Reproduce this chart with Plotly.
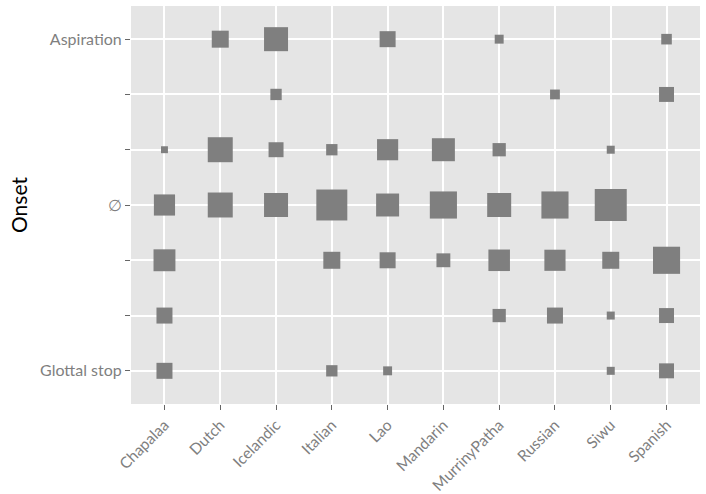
import plotly.graph_objects as go

languages = ["Chapalaa", "Dutch", "Icelandic", "Italian", "Lao", "Mandarin",
             "MurrinyPatha", "Russian", "Siwu", "Spanish"]
onset_labels = ["Glottal stop", "", "", "\u2205", "", "", "Aspiration"]

# counts per onset row (bottom to top), one entry per language, None = absent
glottal = [16, None, None, 8, 5, None, None, None, 4, 14]
row_b = [16, None, None, None, None, None, 11, 16, 4, 14]
row_c = [30, None, None, 18, 16, 12, 29, 28, 18, 46]
null_onset = [28, 39, 36, 60, 33, 46, 36, 46, 64, None]
row_e = [3, 39, 14, 8, 28, 33, 11, None, 4, None]
row_f = [None, None, 8, None, None, None, None, 6, None, 14]
aspiration = [None, 18, 36, None, 16, None, 5, None, None, 7]

rows = [glottal, row_b, row_c, null_onset, row_e, row_f, aspiration]

xs, ys, vals = [], [], []
for yi, row in enumerate(rows):
    for xi, v in enumerate(row):
        if v is not None:
            xs.append(xi)
            ys.append(yi)
            vals.append(v)

fig = go.Figure(go.Scatter(
    x=xs, y=ys, mode="markers",
    marker=dict(symbol="square", size=vals, sizemode="area", sizeref=1/8,
                color="#7f7f7f", opacity=1, line=dict(width=0)),
    hoverinfo="skip", showlegend=False))

font_family = "Lato, 'Open Sans', sans-serif"
fig.update_layout(
    width=706, height=494,
    margin=dict(l=131, r=6, t=6, b=90),
    paper_bgcolor="white", plot_bgcolor="#E5E5E5",
    font=dict(family=font_family, size=16, color="#7f7f7f"),
    xaxis=dict(range=[-0.6, 9.6], tickvals=list(range(len(languages))),
               ticktext=languages, tickangle=-45, showgrid=True,
               gridcolor="white", gridwidth=1.5, zeroline=False,
               ticks="outside", ticklen=5, tickcolor="#666666",
               automargin=False,
               tickfont=dict(size=15.5, color="#7f7f7f")),
    yaxis=dict(range=[-0.6, 6.6], tickvals=list(range(len(onset_labels))),
               ticktext=onset_labels, showgrid=True, gridcolor="white",
               gridwidth=1.5, zeroline=False, ticks="outside", ticklen=5,
               tickcolor="#666666", automargin=False,
               tickfont=dict(size=16, color="#7f7f7f")),
    annotations=[dict(text="Onset", x=-113 / 569, y=0.5, xref="paper",
                      yref="paper", xanchor="center", showarrow=False,
                      textangle=-90, font=dict(size=21, color="black"))],
)

fig.write_html("out.html", config={"displayModeBar": False},
               post_script="document.body.style.margin='0';")
